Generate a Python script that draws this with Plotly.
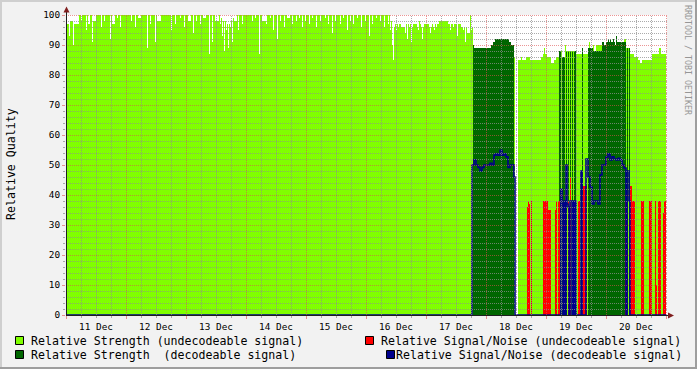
import plotly.graph_objects as go
import pandas as pd

# ---------------- data (step data: (sample index, value) change points) -------------
START = pd.Timestamp("2023-12-11 00:00")
SAMPLE_MIN = 24          # one sample every 24 minutes
END_SAMPLE = 600         # last sample boundary with data
RANGE_SAMPLES = 601

strength_undecodeable = [
    (0,95),(1,97),(3,93),(4,98),(7,90),(8,97),(13,100),(15,98),(16,100),(20,95),(21,100),(22,97),
    (24,100),(26,91),(27,98),(30,100),(35,96),(36,100),(38,98),(39,100),(44,92),(45,100),(46,97),
    (49,100),(51,99),(52,100),(54,96),(55,100),(65,98),(66,100),(69,96),(70,100),(72,99),(75,100),
    (81,89),(82,100),(84,97),(85,100),(89,91),(90,100),(91,98),(95,100),(105,95),(106,100),(109,97),
    (110,100),(114,99),(115,100),(118,96),(119,100),(122,98),(125,100),(127,94),(128,100),(130,98),
    (131,100),(134,97),(135,100),(137,99),(140,100),(143,87),(144,100),(146,91),(147,100),(149,98),
    (153,100),(154,97),(155,99),(156,93),(157,98),(158,88),(159,98),(160,95),(161,97),(162,89),
    (163,97),(164,96),(165,98),(166,91),(167,99),(168,98),(171,100),(172,95),(173,100),(176,97),
    (177,100),(186,98),(187,100),(189,99),(190,100),(193,87),(194,100),(196,98),(200,97),(201,100),
    (204,99),(205,100),(207,95),(208,100),(211,92),(212,100),(214,98),(215,100),(218,96),(219,100),
    (221,99),(224,100),(226,97),(227,100),(230,98),(231,100),(233,99),(234,100),(236,96),(237,100),
    (239,98),(240,100),(243,97),(244,100),(246,99),(247,100),(250,96),(251,100),(254,98),(255,100),
    (259,99),(260,100),(262,97),(263,100),(266,94),(267,100),(269,98),(270,100),(274,97),(275,100),
    (277,99),(278,100),(281,95),(282,100),(284,98),(285,100),(287,97),(288,100),(291,99),(292,100),
    (295,96),(296,100),(299,98),(300,100),(303,93),(304,100),(306,97),(307,100),(310,99),(311,100),
    (314,98),(315,100),(318,96),(319,100),(322,97),(323,100),(324,95),(325,98),(326,90),(327,85),
    (328,96),(329,97),(330,95),(331,97),(332,96),(333,97),(335,96),(339,94),(340,97),(341,92),
    (342,97),(343,96),(344,97),(345,91),(346,96),(347,97),(351,96),(352,95),(353,98),(354,97),
    (355,96),(356,92),(357,96),(358,97),(363,96),(364,94),(365,96),(366,97),(367,96),(368,95),
    (369,97),(370,96),(371,97),(373,98),(382,97),(384,95),(385,97),(387,96),(388,97),(391,93),
    (392,97),(395,96),(397,95),(398,96),(399,91),(400,96),(401,94),(404,100),(405,95),(406,96),
    (407,0),(448,86),(449,0),(452,85),(455,86),(456,85),(460,86),(464,85),(475,86),(477,87),
    (478,89),(479,87),(481,86),(485,84),(488,85),(490,86),(493,88),(496,86),(499,90),(500,88),
    (510,87),(523,91),(524,0),(527,90),(528,0),(530,90),(536,0),(558,92),(560,89),(563,87),
    (568,86),(572,85),(574,84),(576,85),(586,87),(593,89),(595,87),
]

strength_decodeable = [
    (0,0),(407,90),(408,89),(425,90),(427,91),(429,92),(443,91),(445,90),(448,0),
    (493,88),(495,0),(496,86),(499,0),(500,88),(501,0),(502,88),(503,0),(504,88),(505,0),
    (506,88),(507,0),(508,88),(510,0),(516,89),(517,0),(522,89),(527,88),(536,91),(538,90),
    (540,91),(542,92),(543,91),(544,92),(545,91),(547,92),(548,91),(549,90),(550,93),(551,91),
    (560,0),(561,89),(562,0),(563,89),(564,0),
]

snr_undecodeable = [
    (0,0),(461,36),(462,38),(463,37),(464,0),(465,38),(466,0),(477,38),(482,35),(485,0),
    (489,35),(490,38),(491,0),(492,38),(494,0),(502,38),(503,0),(504,46),(505,0),(507,38),
    (509,0),(512,38),(514,0),(516,40),(517,43),(521,0),(559,38),(560,0),(564,43),(566,38),
    (569,0),(575,38),(578,0),(583,38),(586,0),(589,38),(590,10),(591,0),(592,38),(595,0),
    (597,34),(598,38),
]

snr_decodeable = [
    (0,0),(406,50),(408,51.7),(410,50),(412,49.2),(414,48),(416,49.2),(418,50),(424,50.6),
    (426,50),(428,53.3),(430,53.7),(432,53.3),(434,54.9),(436,53.3),(438,53.7),(440,52.7),
    (442,49.2),(444,50),(448,46),(449,0),(495,42),(496,37),(497,0),(498,38),(499,0),(500,50),
    (501,37),(502,36),(503,0),(504,38),(506,0),(507,38),(508,0),(509,38),(510,0),(515,48),
    (516,0),(520,52),(522,46),(524,42.7),(526,37),(528,38),(532,37),(534,46.7),(536,50),
    (540,52.7),(542,53.7),(544,51.7),(546,52.7),(548,52),(550,51.7),(552,52.2),(554,51.7),
    (556,50),(558,49),(560,0),(561,48),(563,38),(564,0),
]

legend_labels = [
    "Relative Strength (undecodeable signal)",
    "Relative Signal/Noise (undecodeable signal)",
    "Relative Strength\u00a0 (decodeable signal)",
    "Relative Signal/Noise (decodeable signal)",
]
y_title = "Relative Quality"
credit = "RRDTOOL / TOBI OETIKER"

# ---------------- styling ----------------
C_LIGHT = "#80FF00"
C_DARK = "#006600"
C_RED = "#FF0000"
C_BLUE = "#00008C"
BACK = "rgb(242,242,242)"
SHADEA = "rgb(207,207,207)"
SHADEB = "rgb(158,158,158)"
GRID = "rgba(143,143,143,0.75)"
MGRID = "rgba(222,79,79,0.6)"
ARROW = "rgb(128,31,31)"
AXIS = "rgb(31,31,31)"
FONT = "DejaVu Sans Mono"

W, H = 697, 369
L, R, T, B = 66, 30, 15, 54
PW, PH = W - L - R, H - T - B


def tx(i):
    return START + pd.Timedelta(minutes=SAMPLE_MIN * i)


def step_xy(changes):
    idx = [i for i, _ in changes] + [END_SAMPLE]
    val = [v for _, v in changes] + [changes[-1][1]]
    return [tx(i) for i in idx], val


def px(x):
    return (x - L) / PW


def py(y):
    return (H - B - y) / PH


fig = go.Figure()
for data, col, kind in [(strength_undecodeable, C_LIGHT, "area"),
                        (strength_decodeable, C_DARK, "area"),
                        (snr_undecodeable, C_RED, "area"),
                        (snr_decodeable, C_BLUE, "line")]:
    xs, ys = step_xy(data)
    if kind == "area":
        fig.add_trace(go.Scatter(x=xs, y=ys, mode="lines", fill="tozeroy", fillcolor=col,
                                 line=dict(width=0, shape="hv", color=col),
                                 showlegend=False, hoverinfo="skip"))
    else:
        fig.add_trace(go.Scatter(x=xs, y=ys, mode="lines",
                                 line=dict(width=1.6, shape="hv", color=col),
                                 showlegend=False, hoverinfo="skip"))

shapes = []
# grid drawn above the data, like rrdtool
for k in range(0, PW // 15 + 1):
    xp = L + 15 * k + 0.5
    if xp > L + PW:
        break
    major = (k % 4 == 0)
    shapes.append(dict(type="line", xref="paper", yref="paper", x0=px(xp), x1=px(xp),
                       y0=0, y1=1, layer="above",
                       line=dict(color=MGRID if major else GRID, width=1, dash="1px,1px")))
for k in range(1, 51):
    yp = H - B - 6 * k + 0.5
    major = (k % 5 == 0)
    shapes.append(dict(type="line", xref="paper", yref="paper", x0=0, x1=1,
                       y0=py(yp), y1=py(yp), layer="above",
                       line=dict(color=MGRID if major else GRID, width=1, dash="1px,1px")))

# frame
shapes += [
    dict(type="rect", xref="paper", yref="paper", x0=px(0), x1=px(W), y0=py(0), y1=py(2),
         fillcolor=SHADEA, line=dict(width=0), layer="above"),
    dict(type="rect", xref="paper", yref="paper", x0=px(0), x1=px(2), y0=py(0), y1=py(H),
         fillcolor=SHADEA, line=dict(width=0), layer="above"),
    dict(type="rect", xref="paper", yref="paper", x0=px(0), x1=px(W), y0=py(H - 2), y1=py(H),
         fillcolor=SHADEB, line=dict(width=0), layer="above"),
    dict(type="rect", xref="paper", yref="paper", x0=px(W - 2), x1=px(W), y0=py(0), y1=py(H),
         fillcolor=SHADEB, line=dict(width=0), layer="above"),
]
# axis extensions and arrows
shapes += [
    dict(type="line", xref="paper", yref="paper", x0=px(66.5), x1=px(66.5), y0=py(315), y1=py(10),
         line=dict(color=AXIS, width=1), layer="above"),
    dict(type="line", xref="paper", yref="paper", x0=px(66), x1=px(670), y0=py(315.5), y1=py(315.5),
         line=dict(color=AXIS, width=1), layer="above"),
    dict(type="path", xref="paper", yref="paper",
         path=f"M {px(63.5)},{py(12.5)} L {px(69.5)},{py(12.5)} L {px(66.5)},{py(6.5)} Z",
         fillcolor=ARROW, line=dict(width=0), layer="above"),
    dict(type="path", xref="paper", yref="paper",
         path=f"M {px(668)},{py(312.5)} L {px(668)},{py(318.5)} L {px(674)},{py(315.5)} Z",
         fillcolor=ARROW, line=dict(width=0), layer="above"),
]

annotations = []
legend_pos = [
    (15, 341, 30, C_LIGHT, legend_labels[0]),
    (365, 341, 380, C_RED, legend_labels[1]),
    (15, 355, 30, C_DARK, legend_labels[2]),
    (386, 355, 395, C_BLUE, legend_labels[3]),
]
for sx, sy, txp, col, lab in legend_pos:
    shapes.append(dict(type="rect", xref="paper", yref="paper",
                       x0=px(sx + 0.5), x1=px(sx + 8.5), y0=py(sy - 4.5), y1=py(sy + 3.5),
                       fillcolor=col, line=dict(color="black", width=1), layer="above"))
    annotations.append(dict(text=lab, xref="paper", yref="paper", x=px(txp), y=py(sy),
                            xanchor="left", yanchor="middle", showarrow=False, borderpad=0,
                            font=dict(family=FONT, size=11.6, color="black")))

annotations.append(dict(text=y_title, xref="paper", yref="paper", x=px(11), y=py(164),
                        xanchor="center", yanchor="middle", textangle=-90, showarrow=False,
                        borderpad=0, font=dict(family=FONT, size=11.6, color="black")))
annotations.append(dict(text=credit, xref="paper", yref="paper", x=px(688), y=py(60),
                        xanchor="center", yanchor="middle", textangle=90, showarrow=False,
                        borderpad=0, font=dict(family=FONT, size=8.3, color="rgb(150,150,150)")))

fig.update_layout(
    width=W, height=H,
    margin=dict(l=L, r=R, t=T, b=B, pad=0, autoexpand=False),
    paper_bgcolor=BACK, plot_bgcolor="white",
    showlegend=False,
    shapes=shapes, annotations=annotations,
    xaxis=dict(type="date", range=[tx(0), tx(RANGE_SAMPLES)], tick0=tx(0), dtick=86400000,
               tickformat="%d %b", ticklabelmode="period", showgrid=False, zeroline=False,
               automargin=False,
               ticks="outside", ticklen=3, tickcolor=MGRID, showline=False,
               minor=dict(dtick=6 * 3600000, ticks="outside", ticklen=2, tickcolor=GRID, showgrid=False),
               tickfont=dict(family=FONT, size=9.4, color="black"), fixedrange=True),
    yaxis=dict(range=[0, 100], tick0=0, dtick=10, showgrid=False, zeroline=False,
               automargin=False,
               ticks="outside", ticklen=3, tickcolor=MGRID, showline=False,
               minor=dict(dtick=2, ticks="outside", ticklen=2, tickcolor=GRID, showgrid=False),
               tickfont=dict(family=FONT, size=9.4, color="black"), fixedrange=True),
)

fig.write_html("out.html")
